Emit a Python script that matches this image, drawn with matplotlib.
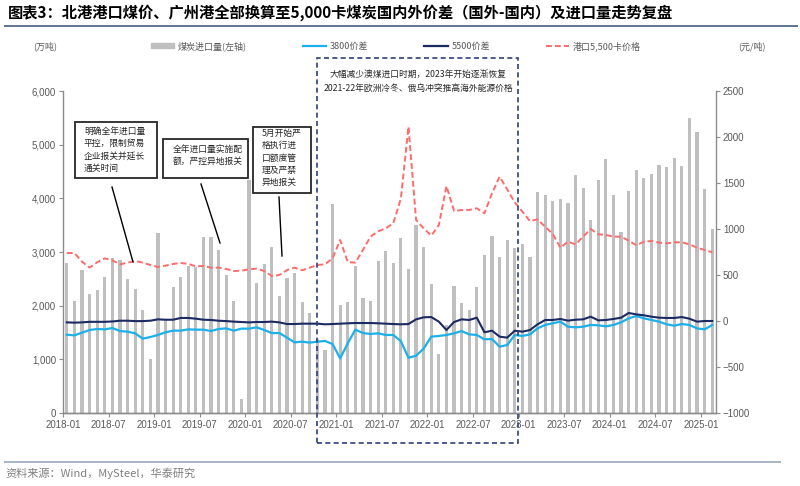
import numpy as np
import matplotlib.pyplot as plt
from matplotlib.patches import Rectangle, Patch
from matplotlib.lines import Line2D

plt.rcParams['font.family'] = ['Noto Sans CJK SC', 'DejaVu Sans']

# monthly, 2018-01 .. 2025-02
months = [f'{y}-{m:02d}' for y in range(2018, 2026) for m in range(1, 13)][:86]

# 煤炭进口量 (万吨)
imports = [2790, 2090, 2665, 2225, 2300, 2540, 2890, 2855, 2505, 2305, 1920, 1000,
           3350, 1750, 2350, 2530, 2745, 2715, 3285, 3285, 3030, 2565, 2080, 270,
           4350, 2430, 2780, 3090, 2180, 2520, 2600, 2060, 1860, 1370, 1170, 3890,
           2020, 2070, 2730, 2150, 2090, 2830, 3010, 2800, 3260, 2680, 3500, 3090,
           2400, 1100, 1640, 2360, 2050, 1910, 2350, 2940, 3290, 2910, 3220, 3070,
           3140, 2900, 4110, 4060, 3950, 3990, 3920, 4430, 4200, 3600, 4340, 4730,
           4060, 3370, 4140, 4530, 4370, 4450, 4620, 4580, 4750, 4610, 5490, 5230,
           4170, 3430]

# 3800价差 (元/吨)
spread_3800 = [-149, -156, -127, -98, -87, -91, -76, -109, -116, -134, -192, -174,
               -152, -123, -105, -105, -91, -94, -94, -109, -87, -80, -105, -83,
               -83, -69, -98, -131, -131, -181, -232, -225, -235, -225, -217, -250,
               -406, -243, -94, -131, -141, -134, -152, -152, -220, -400, -377, -300,
               -170, -163, -152, -134, -109, -145, -152, -199, -196, -279, -261, -152,
               -163, -145, -80, -43, -25, -7, -62, -69, -62, -43, -47, -58,
               -43, -14, 29, 54, 29, 11, -7, -36, -51, -33, -43, -80,
               -91, -43]

# 5500价差 (元/吨)
spread_5500 = [-15, -18, -15, -9, -9, -9, -5, 3, 3, -1, -1, 3,
               18, 14, 14, 33, 33, 25, 14, 11, 3, -1, -7, -11,
               -15, -11, -11, -7, -15, -33, -33, -29, -29, -29, -36, -33,
               -29, -25, -22, -22, -22, -25, -29, -33, -36, -33, 18, 40,
               43, -7, -98, -11, 18, 11, 36, -123, -105, -170, -181, -105,
               -116, -98, -36, 11, 11, 22, 4, 14, 18, 47, 7, 11,
               22, 36, 87, 72, 62, 47, 36, 33, 33, 43, 25, -7,
               0, 0]

# 港口5,500卡价格 (元/吨)
port_5500 = [739, 739, 645, 580, 638, 681, 659, 616, 634, 652, 634, 609,
             587, 602, 620, 631, 620, 594, 598, 580, 580, 565, 543, 547,
             562, 569, 543, 489, 500, 554, 580, 551, 580, 609, 616, 681,
             881, 641, 634, 772, 917, 975, 1007, 1062, 1333, 2112, 1098, 1007,
             928, 1044, 1467, 1196, 1207, 1207, 1225, 1170, 1388, 1569, 1430, 1290,
             1189, 1085, 1105, 1025, 946, 797, 862, 833, 917, 1000, 942, 935,
             917, 917, 873, 823, 862, 870, 852, 844, 855, 855, 833, 797,
             772, 747]

tick_labels = months[::6]

GREY = '#595959'
BAR = '#BFBFBF'
LBLUE = '#1CB0EA'
NAVY = '#1B2A63'
RED = '#FF6B6B'

fig = plt.figure(figsize=(8, 4.86), dpi=100)
ax = fig.add_axes([63 / 800, 1 - 413 / 486, (716 - 63) / 800, (413 - 91) / 486])
ax2 = ax.twinx()

x = np.arange(len(months))
ax.bar(x, imports, width=0.42, color=BAR, zorder=1)
ax2.plot(x, spread_3800, color=LBLUE, lw=1.6, zorder=3)
ax2.plot(x, spread_5500, color=NAVY, lw=1.5, zorder=3)
ax2.plot(x, port_5500, color=RED, lw=1.4, ls=(0, (3, 1.6)), zorder=3)

ax.set_xlim(-0.5, len(months) - 0.5)
ax.set_ylim(0, 6000)
ax2.set_ylim(-1000, 2500)
ax.set_yticks(range(0, 6001, 1000))
ax.set_yticklabels([f'{v:,}' for v in range(0, 6001, 1000)])
ax2.set_yticks(range(-1000, 2501, 500))
ax2.set_xticks([])
ax.set_xticks(np.arange(0, len(months), 6) - 0.5)
ax.set_xticklabels(tick_labels)

for a in (ax, ax2):
    a.spines['top'].set_visible(False)
    for s in ('left', 'right', 'bottom'):
        a.spines[s].set_color('#8c8c8c')
        a.spines[s].set_linewidth(1.0)
    a.tick_params(labelsize=7, labelcolor=GREY, color='#8c8c8c', length=3, width=0.8, pad=2)
    for lab in a.get_xticklabels() + a.get_yticklabels():
        lab.set_fontfamily('Liberation Sans')
ax.spines['right'].set_visible(False)
ax2.spines['left'].set_visible(False)

def fx(px):
    return px / 800

def fy(py):
    return 1 - py / 486

# title and rules
fig.text(fx(8), fy(13), '图表3：北港港口煤价、广州港全部换算至5,000卡煤炭国内外价差（国外-国内）及进口量走势复盘',
         fontsize=11, fontweight='bold', va='center', ha='left', color='black')
fig.add_artist(Line2D([fx(5), fx(797)], [fy(26), fy(26)], color='#5f7394', lw=1.4))
fig.add_artist(Line2D([fx(5), fx(780)], [fy(462), fy(462)], color='#a7b4c7', lw=1.4))
fig.text(fx(5), fy(473), '资料来源：Wind，MySteel，华泰研究', fontsize=8, color='#7f7f7f', va='center')

# legend
fig.text(fx(45), fy(46), '(万吨)', fontsize=6.5, color=GREY, va='center', ha='center')
fig.text(fx(752), fy(46), '(元/吨)', fontsize=6.5, color=GREY, va='center', ha='center')
handles = [Patch(color=BAR),
           Line2D([], [], color=LBLUE, lw=1.6),
           Line2D([], [], color=NAVY, lw=1.6),
           Line2D([], [], color=RED, lw=1.4, ls=(0, (3, 1.6)))]
labels = ['煤炭进口量(左轴)', '3800价差', '5500价差', '港口5,500卡价格']
fig.legend(handles, labels, loc='center', bbox_to_anchor=(fx(396), fy(46)), ncol=4, frameon=False,
           fontsize=6.5, handlelength=2.6, handleheight=0.5, columnspacing=6.2, handletextpad=0.4,
           labelcolor=GREY)

# annotation boxes
notes = [
    ((75, 122, 157, 178), '明确全年进口量\n平控，限制贸易\n企业报关并延长\n通关时间', (84, 150), (112, 187), (133, 262)),
    ((163, 139, 248, 178), '全年进口量实施配\n额，严控异地报关', (173, 155), (201, 184), (220, 243)),
    ((253, 127, 311, 193), '5月开始严\n格执行进\n口额度管\n理及严禁\n异地报关', (262, 158), (279, 197), (282, 256)),
]
for (x0, y0, x1, y1), txt, (tx, ty), (lx0, ly0), (lx1, ly1) in notes:
    fig.add_artist(Rectangle((fx(x0), fy(y1)), fx(x1 - x0), (y1 - y0) / 486,
                             transform=fig.transFigure, facecolor='white', edgecolor='#262626', lw=1.3, zorder=5))
    fig.text(fx(tx), fy(ty), txt, fontsize=6.3, color='#262626', va='center', ha='left',
             linespacing=1.45, zorder=6)
    fig.add_artist(Line2D([fx(lx0), fx(lx1)], [fy(ly0), fy(ly1)], color='black', lw=1.0, zorder=5))

# dashed period box
fig.add_artist(Rectangle((fx(317), fy(443)), fx(518 - 317), (443 - 58) / 486, transform=fig.transFigure,
                         fill=False, edgecolor='#2E3F7A', lw=1.2, ls=(0, (3, 2)), zorder=4))
fig.text(fx(418), fy(74), '大幅减少澳煤进口时期，2023年开始逐渐恢复', fontsize=6.3, color='#262626',
         ha='center', va='center')
fig.text(fx(418), fy(88), '2021-22年欧洲冷冬、俄乌冲突推高海外能源价格', fontsize=6.3, color='#262626',
         ha='center', va='center')

fig.savefig('out.png', dpi=100)
